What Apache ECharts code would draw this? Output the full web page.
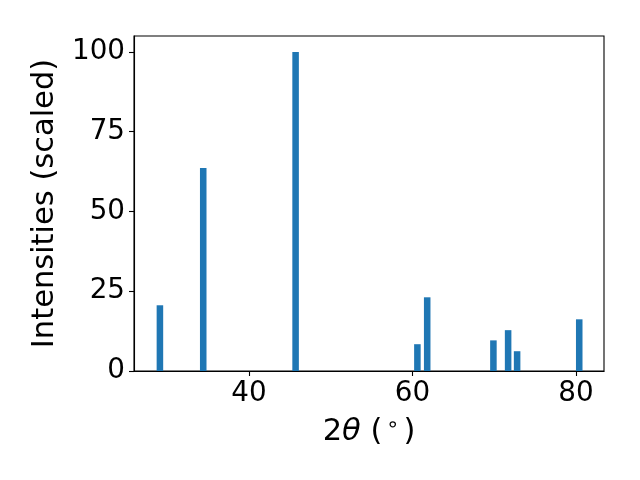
<!DOCTYPE html>
<html><head><meta charset="utf-8">
<script src="https://cdn.jsdelivr.net/npm/echarts@6/dist/echarts.min.js"></script>
<style>html,body{margin:0;padding:0;background:#fff}#c{width:640px;height:480px}</style>
</head><body><div id="c"></div>
<script>
const positions = [29.1, 34.4, 45.7, 60.6, 61.8, 69.9, 71.7, 72.8, 80.4];
const intensities = [20.6, 63.6, 100, 8.4, 23.1, 9.6, 12.8, 6.2, 16.2];
const xTicks = [40, 60, 80];
const yTicks = [0, 25, 50, 75, 100];
const barWidthUnits = 0.8;

const font = 'DejaVu Sans';
const nameSize = 30.5;
const chart = echarts.init(document.getElementById('c'), null, {renderer: 'canvas'});
chart.setOption({
  animation: false,
  backgroundColor: '#fff',
  grid: {left: 134, top: 36, width: 470, height: 335, show: true, borderColor: '#000', borderWidth: 1.1, backgroundColor: 'transparent'},
  xAxis: {
    type: 'value', min: 25.93, max: 83.43,
    splitLine: {show: false},
    axisLine: {show: true, onZero: false, lineStyle: {color: '#000', width: 1.1}},
    axisTick: {show: true, inside: false, length: 5, customValues: xTicks, lineStyle: {color: '#000', width: 1.1}},
    axisLabel: {customValues: xTicks, margin: 9, color: '#000', fontFamily: font, fontSize: 27.8, showMinLabel: true, showMaxLabel: true},
    name: '2{i|θ} ({s|∘})', nameLocation: 'middle', nameGap: 44,
    nameTextStyle: {color: '#000', fontFamily: font, fontSize: nameSize,
      rich: {i: {fontFamily: font, fontStyle: 'italic', fontSize: nameSize, color: '#000'},
             s: {fontFamily: font, fontSize: 21, color: '#000', verticalAlign: 'top', padding: [0,4,13,4]}}}
  },
  yAxis: {
    type: 'value', min: 0, max: 105,
    splitLine: {show: false},
    axisLine: {show: true, lineStyle: {color: '#000', width: 1.1}},
    axisTick: {show: true, inside: false, length: 5, customValues: yTicks, lineStyle: {color: '#000', width: 1.1}},
    axisLabel: {customValues: yTicks, margin: 9, color: '#000', fontFamily: font, fontSize: 27.8},
    name: 'Intensities (scaled)', nameLocation: 'middle', nameGap: 73.5,
    nameTextStyle: {color: '#000', fontFamily: font, fontSize: nameSize}
  },
  series: [{
    type: 'custom',
    data: positions.map((p, i) => [p, intensities[i]]),
    renderItem: function (params, api) {
      const x = api.value(0), y = api.value(1);
      const top = api.coord([x, y]);
      const base = api.coord([x, 0]);
      const w = api.size([barWidthUnits, 0])[0];
      return {type: 'rect', shape: {x: top[0] - w / 2, y: top[1], width: w, height: base[1] - top[1]},
              style: {fill: '#1f77b4'}};
    }
  }]
});
</script></body></html>
